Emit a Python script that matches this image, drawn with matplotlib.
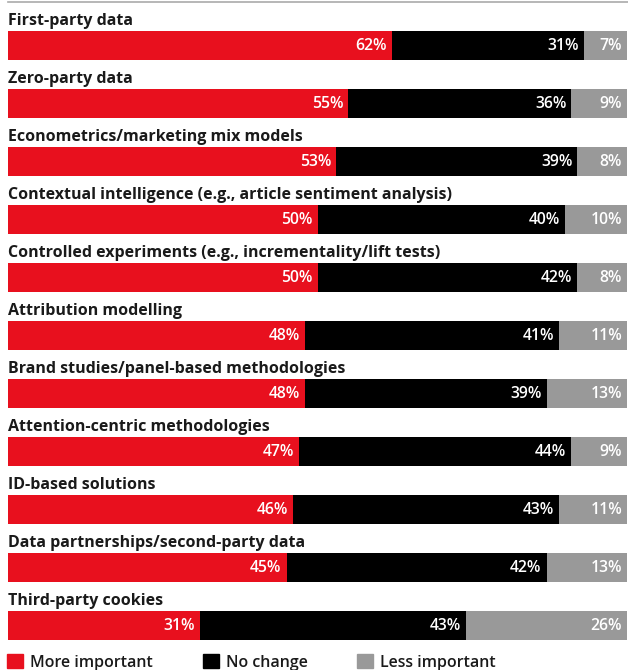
import numpy as np
import matplotlib.pyplot as plt
from matplotlib.patches import Rectangle

categories = ['First-party data', 'Zero-party data', 'Econometrics/marketing mix models',
              'Contextual intelligence (e.g., article sentiment analysis)',
              'Controlled experiments (e.g., incrementality/lift tests)',
              'Attribution modelling', 'Brand studies/panel-based methodologies',
              'Attention-centric methodologies', 'ID-based solutions',
              'Data partnerships/second-party data', 'Third-party cookies']
more = [62, 55, 53, 50, 50, 48, 48, 47, 46, 45, 31]
nochange = [31, 36, 39, 40, 42, 41, 39, 44, 43, 42, 43]
less = [7, 9, 8, 10, 8, 11, 13, 9, 11, 13, 26]
series_names = ['More important', 'No change', 'Less important']
colors = ['#e8101e', '#000000', '#999999']

W, H = 628, 670
fig = plt.figure(figsize=(W / 100, H / 100), dpi=100)
ax = fig.add_axes([8 / W, 0, 619 / W, 1])
pitch = 58.0
ax.set_ylim((H - 45.5) / pitch, -45.5 / pitch)
ax.set_xlim(0, 100)
ax.axis('off')

font = ['Open Sans', 'DejaVu Sans']
y = np.arange(len(categories))
left = np.zeros(len(categories))
for vals, c in zip([more, nochange, less], colors):
    vals = np.array(vals, dtype=float)
    ax.barh(y, vals, left=left, height=29 / pitch, color=c, linewidth=0)
    for yi, l, v in zip(y, left, vals):
        ax.text(l + v - 0.8, yi + 4.5 / pitch, f'{int(v)}%', color='white', ha='right',
                va='baseline', fontsize=11.3, fontweight='semibold', family=font)
    left += vals

for yi, cat in zip(y, categories):
    ax.text(0, yi - 20.5 / pitch, cat, ha='left', va='baseline', fontsize=11.5,
            fontweight='bold', family=font, color='#1a1a1a')

# top rule
fig.add_artist(plt.Line2D([8 / W, 1], [1 - 1.5 / H, 1 - 1.5 / H], color='#aaaaaa', lw=1.2))

# legend
leg_x = [7, 203, 357]
for lx, name, c in zip(leg_x, series_names, colors):
    fig.add_artist(Rectangle((lx / W, 1 - 668 / H), 16 / W, 14 / H, color=c,
                             transform=fig.transFigure))
    fig.text((lx + 23) / W, 1 - 667 / H, name, ha='left', va='baseline', fontsize=11.5,
             fontweight='semibold', family=font, color='#1a1a1a')

fig.savefig('out.png', dpi=100)
